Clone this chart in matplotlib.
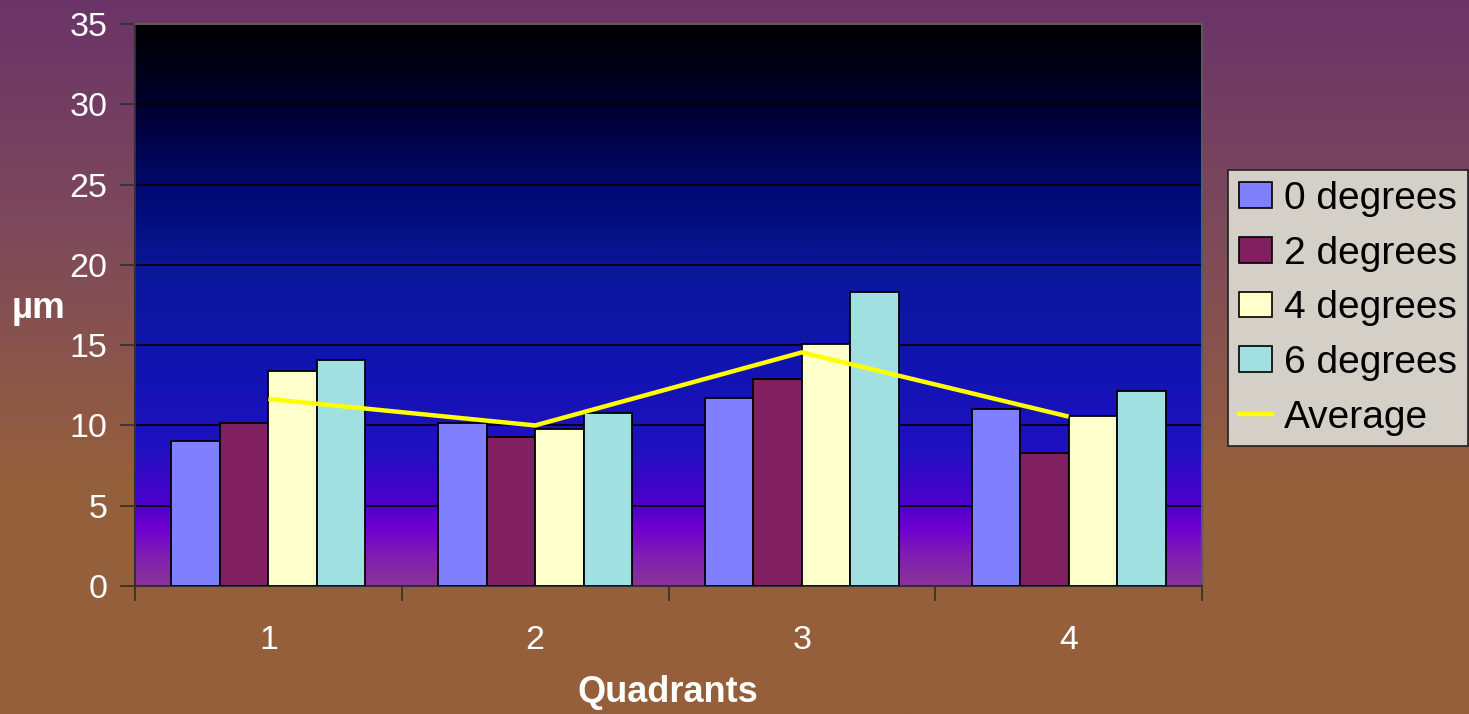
import numpy as np
import matplotlib
matplotlib.use("Agg")
import matplotlib.pyplot as plt
from matplotlib.colors import LinearSegmentedColormap
from matplotlib.patches import Patch
from matplotlib.lines import Line2D

plt.rcParams['font.family'] = ['Liberation Sans', 'DejaVu Sans']

# Data
quadrants = ["1", "2", "3", "4"]
series_names = ["0 degrees", "2 degrees", "4 degrees", "6 degrees"]
deg0 = [9.0, 10.15, 11.7, 11.0]
deg2 = [10.15, 9.25, 12.9, 8.3]
deg4 = [13.4, 9.8, 15.1, 10.6]
deg6 = [14.1, 10.8, 18.3, 12.15]
average = [11.65, 10.0, 14.55, 10.55]
yticks = [0, 5, 10, 15, 20, 25, 30, 35]

bar_colors = ["#8080ff", "#802060", "#ffffcc", "#a0e0e0"]

W, H = 1469, 714
fig = plt.figure(figsize=(W / 100, H / 100), dpi=100)

# Figure background: purple at the top fading to brown at the bottom
bg_ax = fig.add_axes([0, 0, 1, 1], zorder=-10)
bg_cmap = LinearSegmentedColormap.from_list("bg", ["#6a3468", "#7e4a5a", "#955f3c", "#94603a"])
bg_ax.imshow(np.linspace(0, 1, 256).reshape(-1, 1), aspect="auto", cmap=bg_cmap,
             extent=[0, 1, 0, 1], origin="upper")
bg_ax.set_axis_off()

ax = fig.add_axes([135 / W, 1 - 586 / H, (1202 - 135) / W, (586 - 24) / H])

# Plot area: black at the top through deep blue to violet at the bottom
pa_cmap = LinearSegmentedColormap.from_list(
    "pa",
    [(0.0, "#000000"), (0.15, "#000030"), (0.30, "#000a72"), (0.45, "#0a189c"),
     (0.62, "#1214b2"), (0.76, "#2010c2"), (0.86, "#5000cc"), (0.90, "#7000d2"),
     (0.95, "#8020b0"), (1.0, "#8a3399")])
n_cat = len(quadrants)
ax.imshow(np.linspace(0, 1, 512).reshape(-1, 1), aspect="auto", cmap=pa_cmap,
          extent=[-0.5, n_cat - 0.5, 0, 35], origin="upper", zorder=0)

x = np.arange(n_cat)
bw = 1 / 5.5
series = [deg0, deg2, deg4, deg6]
for i, (vals, col) in enumerate(zip(series, bar_colors)):
    ax.bar(x + (i - 1.5) * bw, vals, width=bw, color=col, edgecolor="black",
           linewidth=1.3, zorder=3)

ax.plot(x, average, color="#ffff00", linewidth=3.2, zorder=4, solid_capstyle="butt")

ax.set_xlim(-0.5, n_cat - 0.5)
ax.set_ylim(0, 35)
ax.set_yticks(yticks)
ax.set_yticklabels([str(v) for v in yticks])
for v in yticks[1:-1]:
    ax.axhline(v, color="black", linewidth=1.2, zorder=1)

# Category labels centred; tick marks on the boundaries
ax.set_xticks(np.arange(-0.5, n_cat, 1.0))
ax.set_xticklabels([""] * (n_cat + 1))
ax.set_xticks(x, minor=True)
ax.set_xticklabels(quadrants, minor=True)
ax.tick_params(axis="x", which="major", direction="out", length=11, width=1.2,
               color="#303030")
ax.tick_params(axis="x", which="minor", length=0, pad=28, labelsize=24.5,
               labelcolor="white")
ax.tick_params(axis="y", direction="out", length=11, width=1.2, color="#303030",
               pad=9, labelsize=24.5, labelcolor="white")

for side in ["top", "right"]:
    ax.spines[side].set_color("#5a5a5a")
    ax.spines[side].set_linewidth(1.5)
for side in ["left", "bottom"]:
    ax.spines[side].set_color("#303030")
    ax.spines[side].set_linewidth(1.5)

fig.text(38 / W, 1 - 308 / H, "µm", color="white", fontsize=26.5, fontweight="bold",
         ha="center", va="center")
fig.text(668 / W, 1 - 693 / H, "Quadrants", color="white", fontsize=26,
         fontweight="bold", ha="center", va="center")

handles = [Patch(facecolor=c, edgecolor="black", linewidth=1.2) for c in bar_colors]
handles.append(Line2D([0], [0], color="#ffff00", linewidth=3.2))
leg = fig.legend(handles, series_names + ["Average"], loc="upper left",
                 bbox_to_anchor=(1228 / W, 1 - 170 / H), fontsize=28,
                 frameon=True, fancybox=False, framealpha=1.0,
                 facecolor="#d4d0c8", edgecolor="#202020",
                 handlelength=0.85, handleheight=0.64, handletextpad=0.3,
                 labelspacing=0.48, borderpad=0.28, borderaxespad=0)
leg.get_frame().set_linewidth(1.2)

fig.savefig("out.png", dpi=100)
